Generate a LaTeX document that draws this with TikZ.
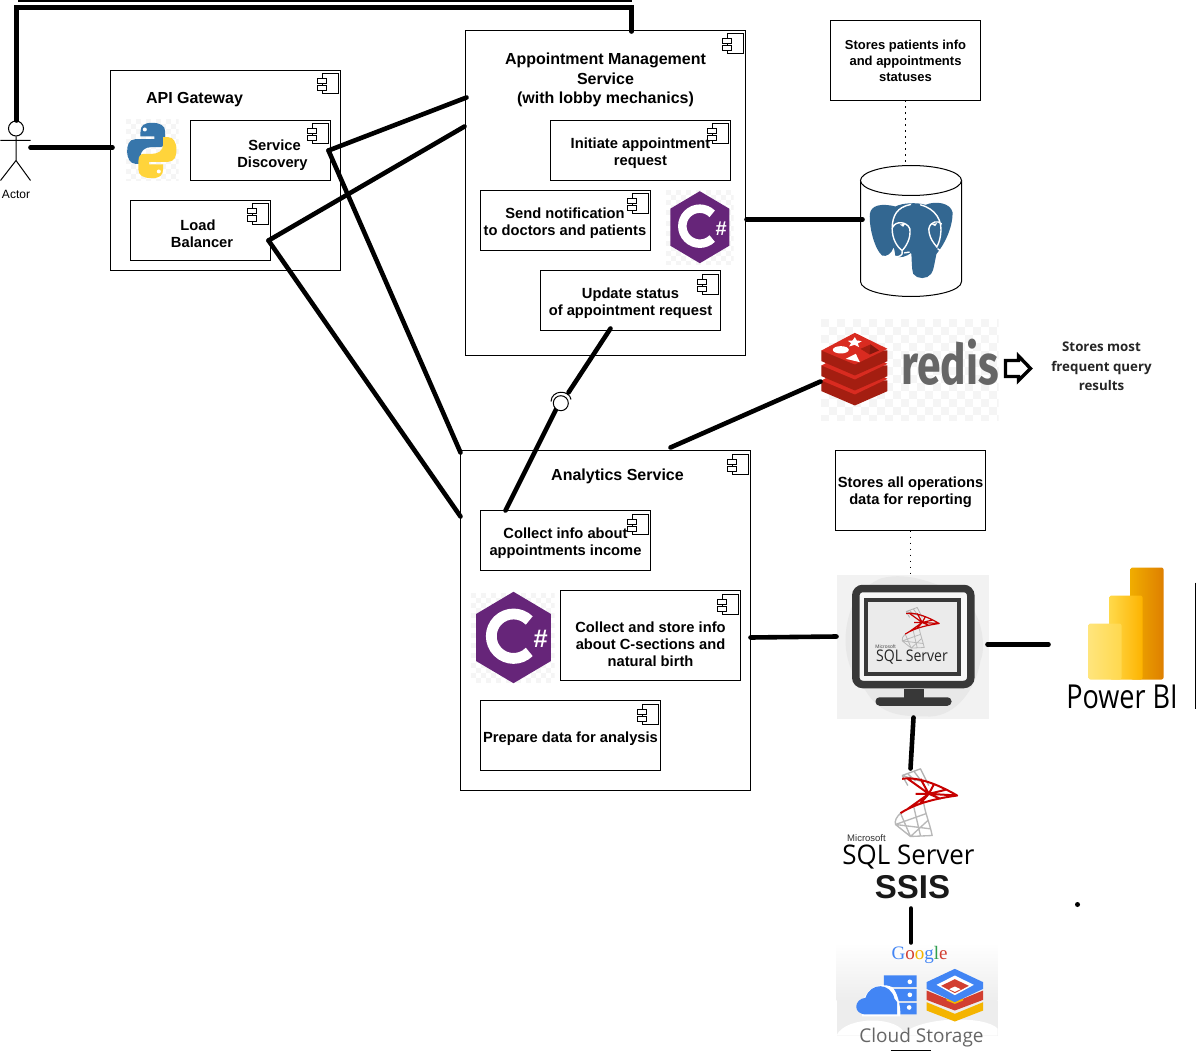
\documentclass[tikz,border=0pt]{standalone}
\usepackage{fontspec}
\setmainfont{Liberation Sans}
\newfontfamily\opensans{Open Sans}
\newfontfamily\firasans{Fira Sans}
\newfontfamily\gserif{Liberation Serif}
\usetikzlibrary{calc}
\definecolor{pgblue}{HTML}{336791}
\definecolor{csharp}{HTML}{662579}
\definecolor{redislight}{HTML}{D92B20}
\definecolor{redisdark}{HTML}{A41E11}
\definecolor{gblue}{HTML}{4285F4}
\definecolor{gred}{HTML}{D23F31}
\definecolor{gyellow}{HTML}{F4B400}
\definecolor{ggreen}{HTML}{2E9E4F}
\definecolor{pyblue}{HTML}{3776AB}
\definecolor{pyyellow}{HTML}{FFD43B}
\definecolor{pbiA}{HTML}{F0AC00}
\definecolor{pbiB}{HTML}{DE7F00}
\definecolor{pbiC}{HTML}{FFD94A}
\definecolor{pbiD}{HTML}{FDB300}
\definecolor{pbiE}{HTML}{FFE57C}
\definecolor{pbiF}{HTML}{FFD84E}
\tikzset{
  box/.style={draw=black,line width=1pt,fill=white,inner sep=0pt,rectangle},
  lbl/.style={font=\fontsize{14.7}{17}\selectfont\bfseries,align=center,inner sep=0pt,text=black},
  ttl/.style={font=\fontsize{16}{19.5}\selectfont\bfseries,align=center,inner sep=0pt,text=black},
  conn/.style={draw=black,line width=4.6pt,line cap=round},
  dotline/.style={draw=black,line width=1.6pt,dash pattern=on 1.6pt off 4.4pt},
  hair/.style={draw=black,line width=1pt},
  check/.style={fill=black!4,draw=none}
}
% component icon at the north east corner of a box
\newcommand{\compicon}[1]{%
  \begin{scope}[shift={(#1.north east)}]
    \draw[hair,fill=white] (-19,4) rectangle (-3,24);
    \draw[hair,fill=white] (-24,9) rectangle (-15,14);
    \draw[hair,fill=white] (-24,16) rectangle (-15,21);
  \end{scope}}
% checker background
\newcommand{\checker}[5]{%
  \begin{scope}
    \clip (#1,#2) rectangle (#3,#4);
    \fill[white] (#1,#2) rectangle (#3,#4);
    \pgfmathtruncatemacro{\nx}{(#3-#1)/#5}
    \pgfmathtruncatemacro{\ny}{(#4-#2)/#5}
    \foreach \i in {0,...,\nx}{\foreach \j in {0,...,\ny}{
      \pgfmathtruncatemacro{\odd}{mod(\i+\j,2)}
      \ifnum\odd=0 \fill[check] ({#1+\i*#5},{#2+\j*#5}) rectangle ++(#5,#5);\fi
    }}
  \end{scope}}
% C sharp logo
\newcommand{\csharplogo}[3]{%
  \begin{scope}[shift={(#1,#2)},x=#3pt,y=-#3pt]
    \fill[csharp] (0,-36) -- (29.5,-18.5) -- (29.5,18.5) -- (0,36) -- (-29.5,18.5) -- (-29.5,-18.5) -- cycle;
    \draw[white,line width=#3*8.5pt] (12.4,-13.4) arc[start angle=-45,end angle=-315,radius=17.5];
    \node[text=white,font=\fontsize{20}{20}\selectfont\bfseries,inner sep=0pt,scale=#3] at (21.5,1) {\#};
  \end{scope}}
% SQL Server mark, drawn in 1/3 px units of the SSIS crop
\newcommand{\sqllogo}[3]{%
  \begin{scope}[shift={(#1,#2)},x=#3pt,y=-#3pt]
    \draw[black!30,line width=#3*4pt,line join=round]
      (245,45) -- (300,25) -- (325,75) (245,45) -- (262,75) (262,40) -- (285,62) (280,32) -- (305,65) (245,45) -- (300,62);
    \draw[black!28,line width=#3*4pt,line join=round]
      (240,158) .. controls (228,170) and (222,180) .. (225,192) -- (270,228) -- (335,225) .. controls (328,190) and (315,160) .. (310,130)
      (225,192) -- (315,160) (240,158) -- (270,228) (280,140) -- (300,226) (270,228) -- (322,180) (225,192) -- (330,205);
    \draw[red!78!black,line width=#3*6pt,line join=round]
      (245,55) .. controls (290,48) and (350,70) .. (410,105) .. controls (360,112) and (290,125) .. (240,158)
      (262,55) -- (325,100) -- (360,115) (300,55) -- (325,100) -- (300,128) (340,72) -- (325,100) -- (285,100)
      (375,88) -- (325,100) (410,105) -- (325,100) (262,145) -- (325,100);
  \end{scope}}
\begin{document}
\begin{tikzpicture}[x=1pt,y=-1pt]
\useasboundingbox (-.5,-.5) rectangle (1195.5,1050.5);
\fill[white] (-.5,-.5) rectangle (1195.5,1050.5);

%--- component boxes
\node[box,minimum width=230pt,minimum height=200pt] (api) at (225,170) {};
\node[box,minimum width=280pt,minimum height=325pt] (ams) at (605,192.5) {};
\node[box,minimum width=290pt,minimum height=340pt] (ana) at (605,620) {};
\node[box,minimum width=140pt,minimum height=60pt] (sd) at (260,150) {};
\node[box,minimum width=140pt,minimum height=60pt] (lb) at (200,230) {};
\node[box,minimum width=180pt,minimum height=60pt] (init) at (640,150) {};
\node[box,minimum width=170pt,minimum height=60pt] (send) at (565,220) {};
\node[box,minimum width=180pt,minimum height=60pt] (upd) at (630,300) {};
\node[box,minimum width=170pt,minimum height=60pt] (coll) at (565,540) {};
\node[box,minimum width=180pt,minimum height=90pt] (cstore) at (650,635) {};
\node[box,minimum width=180pt,minimum height=70pt] (prep) at (570,735) {};
\node[box,minimum width=150pt,minimum height=80pt] (note1) at (905,60) {};
\node[box,minimum width=150pt,minimum height=80pt] (note2) at (910,490) {};

%--- texts
\node[ttl] (apit) at (194,99.5) {API Gateway};
\node[ttl] (amst) at (605,79.5) {Appointment Management\\Service\\(with lobby mechanics)};
\node[ttl] (anat) at (617,475.5) {Analytics Service};
\node[lbl] (sdt) at (272,154.5) {\ Service\\Discovery};
\node[lbl] (lbt) at (199.5,233) {Load\ \ \\\ Balancer\ };
\node[lbl] (initt) at (640,153) {Initiate appointment\\request};
\node[lbl] (sendt) at (564.5,223) {\ Send notification\ \ \\to doctors and patients};
\node[lbl] (updt) at (630,303) {Update status\ \\of appointment request};
\node[lbl] (collt) at (565,543) {Collect info about\ \\appointments income};
\node[lbl] (cstoret) at (650,643.5) {Collect and store info\\about C-sections and\\natural birth};
\node[lbl] (prept) at (570,738.5) {Prepare data for analysis};
\node[font=\fontsize{13}{16}\selectfont\bfseries,align=center,inner sep=0pt] (note1t) at (905,60) {Stores patients info\\and appointments\\statuses};
\node[lbl] (note2t) at (910,492) {Stores all operations\\data for reporting};
\node[font=\opensans\fontsize{13.3}{19.5}\selectfont\bfseries,align=center,inner sep=0pt,text=black!85] (redist) at (1101,366) {Stores most\\frequent query\\results};

%--- actor
\node[draw=black,line width=1pt,circle,minimum size=15pt,inner sep=0pt,fill=white] (actor) at (15.5,128) {};
\node[font=\fontsize{12}{14}\selectfont,inner sep=0pt] (actort) at (15.5,194) {Actor};
\coordinate (hip) at (15.5,160);
\coordinate (armL) at (0,140);
\coordinate (armR) at (30,140);
\coordinate (legL) at (0,180);
\coordinate (legR) at (30,180);
\draw[hair] (actor.south) -- (hip) -- (legL) (hip) -- (legR) (armL) -- (armR);

%--- python logo
\checker{125}{119}{178}{180}{5}
\begin{scope}[x=.3333pt,y=-.3333pt]
  \fill[pyblue] (455,367) .. controls (430,367) and (420,375) .. (420,395) -- (420,408) -- (462,408) -- (462,416) -- (405,416) .. controls (385,416) and (380,435) .. (380,452) .. controls (380,475) and (390,490) .. (405,490) -- (420,490) -- (420,468) .. controls (420,450) and (435,440) .. (452,440) -- (478,440) .. controls (488,440) and (494,432) .. (494,420) -- (494,392) .. controls (494,375) and (478,367) .. (455,367) -- cycle;
  \fill[pyyellow] (453,533) .. controls (478,533) and (488,525) .. (488,505) -- (488,492) -- (446,492) -- (446,484) -- (503,484) .. controls (523,484) and (528,465) .. (528,448) .. controls (528,425) and (518,410) .. (503,410) -- (488,410) -- (488,432) .. controls (488,450) and (473,460) .. (456,460) -- (430,460) .. controls (420,460) and (414,468) .. (414,480) -- (414,508) .. controls (414,525) and (430,533) .. (453,533) -- cycle;
  \fill[white] (433,387) circle[radius=6] (475,513) circle[radius=6];
\end{scope}

%--- C sharp logos
\checker{665}{190}{733}{264}{5}
\csharplogo{699.3}{226.7}{1}
\checker{470}{592}{554}{682}{5}
\csharplogo{513}{637}{1.27}

%--- PostgreSQL cylinder
\coordinate (pgL) at (860,180);
\coordinate (pgR) at (961,180);
\draw[hair,fill=white] (860,180) -- (860,281) .. controls (860,290) and (885,296) .. (910.5,296) .. controls (936,296) and (961,290) .. (961,281) -- (961,180);
\draw[hair,fill=white] (910.5,180) ellipse[x radius=50.5,y radius=15];
\begin{scope}[shift={(860,195)},x=.3333pt,y=-.3333pt]
  \fill[pgblue] (28,55) .. controls (32,30) and (60,22) .. (105,33) .. controls (125,22) and (170,20) .. (195,28) .. controls (225,15) and (270,22) .. (276,50) .. controls (278,95) and (250,150) .. (228,175) .. controls (222,200) and (220,225) .. (212,235) .. controls (200,252) and (170,252) .. (158,235) .. controls (152,215) and (155,190) .. (152,172) .. controls (140,182) and (118,190) .. (105,182) -- (100,155) .. controls (92,175) and (78,185) .. (65,180) .. controls (45,165) and (25,100) .. (28,55) -- cycle;
  \draw[white,line width=1.4pt,line cap=round,line join=round]
    (150,27) .. controls (110,35) and (95,60) .. (95,100) .. controls (95,130) and (110,155) .. (125,165)
    (97,95) .. controls (105,75) and (140,78) .. (148,100) .. controls (152,130) and (135,155) .. (125,165)
    (125,168) .. controls (128,180) and (115,185) .. (105,183)
    (132,172) -- (146,170)
    (180,28) .. controls (225,40) and (248,75) .. (240,120) .. controls (238,135) and (232,150) .. (228,155)
    (205,100) .. controls (210,75) and (235,75) .. (243,85)
    (205,100) .. controls (205,125) and (220,145) .. (230,155)
    (232,160) .. controls (240,170) and (255,170) .. (272,165);
  \fill[white] (118,87) -- (134,85) -- (128,94) -- cycle (213,86) -- (230,83) -- (224,92) -- cycle;
\end{scope}

%--- Redis logo
\checker{820}{318}{998}{420}{8}
\begin{scope}[shift={(660,160)},x=.3333pt,y=-.3333pt]
  \foreach \o in {90,45,0}{
    \fill[redisdark] (483,570+\o) -- (483,602+\o) -- (583,645+\o) -- (681,602+\o) -- (681,570+\o) -- cycle;
    \fill[redislight] (483,570+\o) -- (583,517+\o) -- (681,565+\o) -- (583,612+\o) -- cycle;
  }
  \fill[white] (541,568) ellipse[x radius=24,y radius=11];
  \fill[white] (583,530) -- (589,540) -- (604,542) -- (592,549) -- (596,560) -- (582,553) -- (566,558) -- (572,548) -- (562,541) -- (576,540) -- cycle;
  \fill[white] (556,595) -- (586,580) -- (598,605) -- cycle;
  \fill[redisdark] (600,565) -- (630,552) -- (655,570) -- (627,582) -- cycle;
  \fill[black!20!redisdark] (630,552) -- (655,570) -- (627,582) -- cycle;
\end{scope}
\node[font=\firasans\fontsize{56}{56}\selectfont\bfseries,text=black!60,inner sep=0pt,xscale=.76] (redisw) at (949.5,362) {redis};
\draw[draw=black,line width=3.4pt,fill=white,line join=miter] (1005,360) -- (1018,360) -- (1018,355.5) -- (1030,368) -- (1018,380) -- (1018,376) -- (1005,376) -- cycle;

%--- SQL Server monitor
\fill[black!5] (836,574) rectangle (988,718);
\fill[black!9] (880,578) .. controls (910,570) and (935,585) .. (955,590) .. controls (985,610) and (985,650) .. (980,660) .. controls (975,690) and (955,715) .. (930,716) .. controls (900,716) and (880,715) .. (865,690) .. controls (845,670) and (840,640) .. (850,610) .. controls (855,595) and (865,585) .. (880,578) -- cycle;
\node[draw=black!78,line width=7.5pt,rounded corners=7pt,minimum width=115pt,minimum height=96pt,inner sep=0pt,fill=black!3] (mon) at (912.8,636) {};
\node[draw=black!78,line width=4pt,fill=black!8,minimum width=93.4pt,minimum height=73.3pt,inner sep=0pt] (scr) at (912,636.4) {};
\fill[black!78] (903,688) rectangle (923,698);
\node[fill=black!78,rounded corners=4pt,minimum width=76pt,minimum height=8.5pt,inner sep=0pt] (mbase) at (913,701) {};
\sqllogo{856.7}{602}{.2}
\node[font=\fontsize{5}{5}\selectfont,inner sep=0pt,text=black!70] (monms) at (885,646.5) {Microsoft};
\node[font=\opensans\fontsize{16}{16}\selectfont,inner sep=0pt,xscale=.88,text=black!85] (monsql) at (911.5,657) {SQL Server};

%--- Power BI
\begin{scope}
  \shade[left color=pbiA,right color=pbiB,rounded corners=2pt] (1130,567) rectangle (1163,679);
  \shade[left color=pbiC,right color=pbiD,rounded corners=2pt] (1109,595) rectangle (1142,679);
  \shade[left color=pbiE,right color=pbiF,rounded corners=2pt] (1088,623) rectangle (1121,679);
\end{scope}
\node[font=\opensans\fontsize{33}{33}\selectfont,inner sep=0pt,xscale=.82] (pbi) at (1121.5,696) {Power BI};
\coordinate (pbA) at (1195,582);
\coordinate (pbB) at (1195,708);
\draw[hair] (pbA) -- (pbB);

%--- SSIS
\sqllogo{820}{760}{.3333}
\node[font=\fontsize{9.5}{9.5}\selectfont,inner sep=0pt,text=black!80] (ms) at (866,838) {Microsoft};
\node[font=\opensans\fontsize{27}{27}\selectfont,inner sep=0pt,xscale=.96] (ssql) at (908,856) {SQL Server};
\node[font=\fontsize{33}{33}\selectfont\bfseries,inner sep=0pt,text=black!90] (ssis) at (912,887) {SSIS};

%--- Google Cloud Storage
\shade[top color=white,bottom color=black!7] (836,942) rectangle (997,1000);
\fill[black!7] (836,1000) rectangle (997,1035);
\fill[white] (836,1035) .. controls (845,1015) and (900,1015) .. (905,1035) -- cycle;
\fill[white] (900,1035) .. controls (920,1015) and (985,1015) .. (997,1028) -- (997,1035) -- cycle;
\node[font=\gserif\fontsize{19}{19}\selectfont,inner sep=0pt] (goog) at (919,954.5) {\textcolor{gblue}{G}\textcolor{gred}{o}\textcolor{gyellow}{o}\textcolor{gblue}{g}\textcolor{ggreen}{l}\textcolor{gred}{e}};
\begin{scope}[shift={(820,760)},x=.3333pt,y=-.3333pt]
  \fill[gblue] (190,645) rectangle (288,680) (190,685) rectangle (288,722) (190,727) rectangle (288,762);
  \fill[white] (268,664) circle[radius=7] (268,703) circle[radius=7] (266,741) circle[radius=7];
  \fill[white] (125,768) -- (125,735) .. controls (130,690) and (170,660) .. (215,680) .. controls (230,695) and (240,730) .. (240,768) -- cycle;
  \fill[gblue] (138,762) .. controls (95,762) and (100,715) .. (135,712) .. controls (150,665) and (210,665) .. (222,715) -- (230,725) -- (230,762) -- cycle;
\end{scope}
\begin{scope}[shift={(920,960)},x=.3333pt,y=-.3333pt]
  \fill[gyellow] (18,125) -- (103,160) -- (188,125) -- (188,150) -- (103,183) -- (18,150) -- cycle;
  \fill[gred] (18,90) -- (103,125) -- (188,90) -- (188,118) -- (103,150) -- (18,118) -- cycle;
  \fill[gyellow] (78,112) -- (103,122) -- (128,112) -- (128,120) -- (103,130) -- (78,120) -- cycle;
  \fill[gblue] (103,25) -- (188,65) -- (188,85) -- (103,125) -- (18,85) -- (18,65) -- cycle;
  \fill[white] (103,45) -- (160,73) -- (103,104) -- (48,73) -- cycle;
  \fill[gred] (103,56) -- (145,76) -- (103,98) -- (62,76) -- cycle;
  \fill[white] (103,78) -- (120,86) -- (103,94) -- (86,86) -- cycle;
\end{scope}
\node[font=\opensans\fontsize{19}{19}\selectfont,inner sep=0pt,text=black!60] (gcs) at (921,1037) {Cloud Storage};

%--- connector end points
\coordinate (actA) at (30,147);
\coordinate (apiA) at (112,147);
\coordinate (actB) at (16,120);
\coordinate (actC) at (16,7);
\coordinate (amsTop) at (631,7);
\coordinate (amsN) at (631,31);
\coordinate (topA) at (17,0);
\coordinate (topB) at (631,0);
\coordinate (sdA) at (328,150);
\coordinate (lbA) at (268,240);
\coordinate (amsA) at (466,97);
\coordinate (amsB) at (464,126);
\coordinate (anaA) at (460,452);
\coordinate (anaB) at (460,516);
\coordinate (updA) at (610,328);
\coordinate (sockA) at (568,392);
\coordinate (ballA) at (556,408);
\coordinate (collA) at (505,510);
\coordinate (amsE) at (746,219);
\coordinate (pgA) at (862,219);
\coordinate (anaC) at (670,447);
\coordinate (redisA) at (820,381);
\coordinate (anaD) at (750,637);
\coordinate (monA) at (836,636);
\coordinate (monB) at (987,644);
\coordinate (pbiL) at (1048,644);
\coordinate (monC) at (913,717);
\coordinate (ssisA) at (910,768);
\coordinate (ssisB) at (910.5,908);
\coordinate (gcsA) at (910.5,942);
\coordinate (note1A) at (905,100);
\coordinate (pgTop) at (905,165);
\coordinate (note2A) at (910,530);
\coordinate (monTop) at (910,574);

%--- connectors
\draw[conn] (actA) -- (apiA);
\draw[conn,line join=miter] (actB) -- (actC) -- (amsTop) -- (amsN);
\draw[draw=black,line width=2.5pt] (topA) -- (topB);
\draw[conn] (sdA) -- (amsA);
\draw[conn] (lbA) -- (amsB);
\draw[conn] (sdA) -- (anaA);
\draw[conn] (lbA) -- (anaB);
\draw[conn] (updA) -- (sockA);
\draw[conn] (ballA) -- (collA);
\draw[conn] (amsE) -- (pgA);
\draw[conn] (anaC) -- (redisA);
\draw[conn] (anaD) -- (monA);
\draw[conn] (monB) -- (pbiL);
\draw[conn] (monC) -- (ssisA);
\draw[conn] (ssisB) -- (gcsA);
\draw[dotline] (note1A) -- (pgTop);
\draw[dotline] (note2A) -- (monTop);

%--- interface
\node[draw=black,line width=1pt,circle,minimum size=15pt,inner sep=0pt,fill=white] (ball) at (560.3,402.7) {};
\draw[hair] (550.5,401) .. controls (551,389) and (569,389) .. (570.5,399);

%--- component icons
\foreach \b in {api,ams,ana,sd,lb,init,send,upd,coll,cstore,prep}{\compicon{\b}}

%--- stray marks
\fill[black] (1077,904) circle[radius=2.5];
\coordinate (btmA) at (890,1050);
\coordinate (btmB) at (930,1050);
\draw[hair] (btmA) -- (btmB);
\end{tikzpicture}
\end{document}
